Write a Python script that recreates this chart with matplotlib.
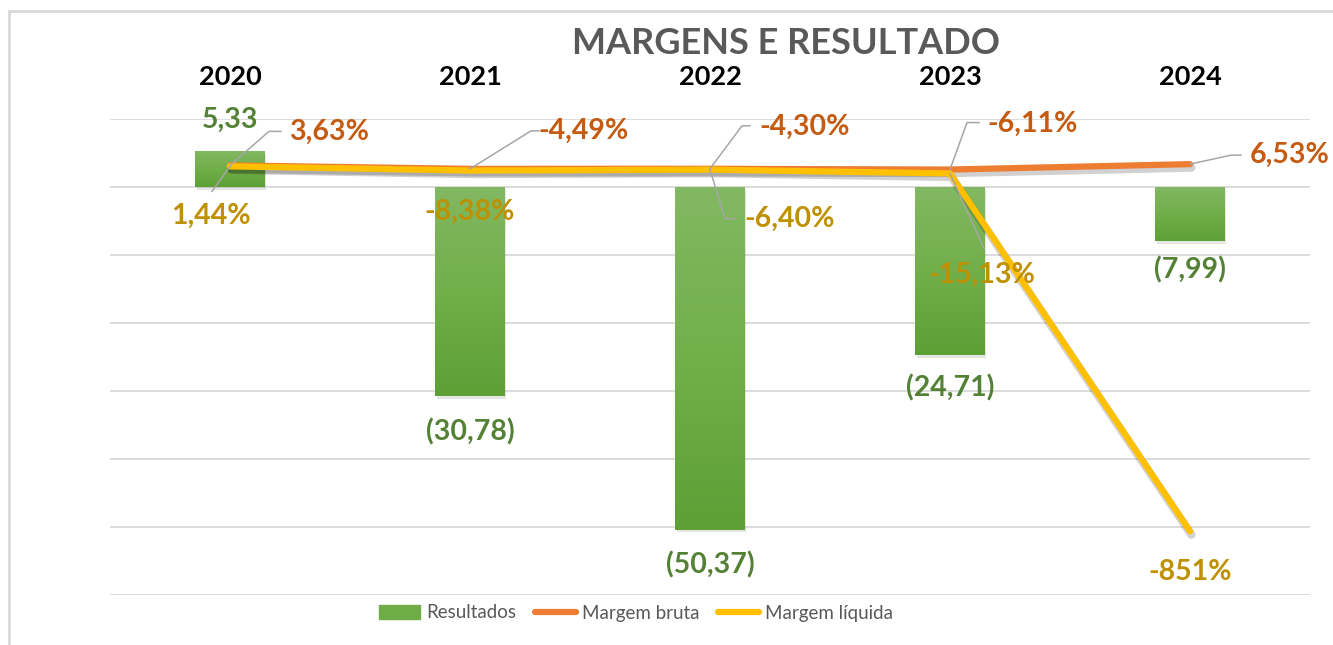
import matplotlib
matplotlib.use("Agg")
import matplotlib.pyplot as plt
import matplotlib.patheffects as pe
from matplotlib.lines import Line2D
from matplotlib.colors import LinearSegmentedColormap
import numpy as np

plt.rcParams['font.family'] = ['Lato', 'DejaVu Sans']

anos = ['2020', '2021', '2022', '2023', '2024']
resultados = [5.33, -30.78, -50.37, -24.71, -7.99]
margem_bruta = [3.63, -4.49, -4.30, -6.11, 6.53]      # %
margem_liquida = [1.44, -8.38, -6.40, -15.13, -851.0]  # %

rotulo_res = ['5,33', '(30,78)', '(50,37)', '(24,71)', '(7,99)']
rotulo_mb = ['3,63%', '-4,49%', '-4,30%', '-6,11%', '6,53%']
rotulo_ml = ['1,44%', '-8,38%', '-6,40%', '-15,13%', '-851%']

VERDE, LARANJA, AMARELO = '#70AD47', '#ED7D31', '#FFC000'
TXT_VERDE, TXT_LARANJA, TXT_AMARELO = '#548235', '#C55A11', '#BF9000'
CINZA = '#A6A6A6'

fig = plt.figure(figsize=(13.33, 6.45), dpi=100)
ax = fig.add_axes([110/1333, 1-595/645, 1200/1333, 476/645])
ax2 = ax.twinx()

x = np.arange(len(anos))
sombra = [pe.SimpleLineShadow(offset=(1, -2.5), shadow_color='k', alpha=0.18, linewidth=6), pe.Normal()]
barras = ax.bar(x, resultados, width=0.29, color=VERDE, zorder=2,
                path_effects=[pe.SimplePatchShadow(offset=(1, -2), alpha=0.12), pe.Normal()])

# degradê nas barras
grad = LinearSegmentedColormap.from_list('g', ['#5E9F36', '#72AF4A', '#82B862'])
for b in barras:
    x0, y0 = b.get_x(), b.get_y()
    w, hgt = b.get_width(), b.get_height()
    lo, hi = min(y0, y0+hgt), max(y0, y0+hgt)
    im = ax.imshow(np.linspace(0, 1, 100).reshape(-1, 1), extent=[x0, x0+w, lo, hi],
                   origin='lower', aspect='auto', cmap=grad, zorder=2.1)
    im.set_clip_path(b)

ax.set_ylim(-60, 10)
ax.set_xlim(-0.5, 4.5)
ax.set_yticks(np.arange(-60, 11, 10))
ax.grid(axis='y', color='#D9D9D9', lw=1.3, zorder=0)
ax.set_axisbelow(True)

ax2.plot(x, margem_bruta, color=LARANJA, lw=4.5, solid_capstyle='round', path_effects=sombra, zorder=3)
ax2.plot(x, margem_liquida, color=AMARELO, lw=4.5, solid_capstyle='round', path_effects=sombra, zorder=4)
ax2.set_ylim(-1000, 112)

for a in (ax, ax2):
    for s in a.spines.values():
        s.set_visible(False)
    a.tick_params(left=False, right=False, bottom=False, labelleft=False,
                  labelright=False, labelbottom=False)

# anos no topo
for i, ano in enumerate(anos):
    ax.text(i, (595-77)/476, ano, transform=ax.get_xaxis_transform(), ha='center', va='center',
            fontsize=19.5, fontweight='bold', color='black')

fig.text(786/1333, 1-44/645, 'MARGENS E RESULTADO', ha='center', va='center',
         fontsize=26, fontweight='bold', color='#595959')

# rótulos (deslocamentos em pixels, y para baixo)
off_res = [(0, -31), (0, 36), (0, 35), (0, 33), (0, 29)]
off_mb = [(99, -34), (114, -38), (95, -42), (83, -46), (100, -9)]
off_ml = [(-19, 50), (0, 41), (80, 49), (32, 101), (0, 41)]
guia_mb = [[(39, -34), (51, -34)], [(61, -38), (69, -38)], [(32, -43), (40, -43)],
           [(17, -47), (29, -47)], [(41, -9), (51, -9)]]
guia_ml = [[(-18, 25)], None, [(15, 49), (25, 49)], [(34, 75)], None]

fig.canvas.draw()

def px(a, xi, yi):
    return a.transData.transform((xi, yi))

for i in range(len(anos)):
    bx, by = px(ax, i, resultados[i])
    dx, dy = off_res[i]
    fig.text((bx+dx)/1333, (by-dy)/645, rotulo_res[i], ha='center', va='center',
             fontsize=20.5, fontweight='bold', color=TXT_VERDE)

    for vals, offs, guias, rot, cor in ((margem_bruta, off_mb, guia_mb, rotulo_mb, TXT_LARANJA),
                                         (margem_liquida, off_ml, guia_ml, rotulo_ml, TXT_AMARELO)):
        pxx, pyy = px(ax2, i, vals[i])
        dx, dy = offs[i]
        fig.text((pxx+dx)/1333, (pyy-dy)/645, rot[i], ha='center', va='center',
                 fontsize=20.5, fontweight='bold', color=cor, zorder=6)
        if guias[i]:
            pts = [(pxx, pyy)] + [(pxx+gx, pyy-gy) for gx, gy in guias[i]]
            fig.add_artist(Line2D([p[0]/1333 for p in pts], [p[1]/645 for p in pts],
                                  color=CINZA, lw=1.1, zorder=5))

# moldura
fig.add_artist(Line2D([9/1333, 9/1333], [0, 1-11/645], color='#D9D9D9', lw=2))
fig.add_artist(Line2D([9/1333, 1], [1-11/645, 1-11/645], color='#D9D9D9', lw=2))

h = [plt.Rectangle((0, 0), 1, 1, color=VERDE),
     Line2D([], [], color=LARANJA, lw=4.5, solid_capstyle='round'),
     Line2D([], [], color=AMARELO, lw=4.5, solid_capstyle='round')]
fig.legend(h, ['Resultados', 'Margem bruta', 'Margem líquida'], loc='center',
           bbox_to_anchor=(636/1333, 1-613/645), ncol=3, frameon=False, fontsize=13.5,
           labelcolor='#595959', handlelength=2.2, handleheight=0.8, handletextpad=0.3,
           columnspacing=1.0)

fig.savefig('out.png', dpi=100)
